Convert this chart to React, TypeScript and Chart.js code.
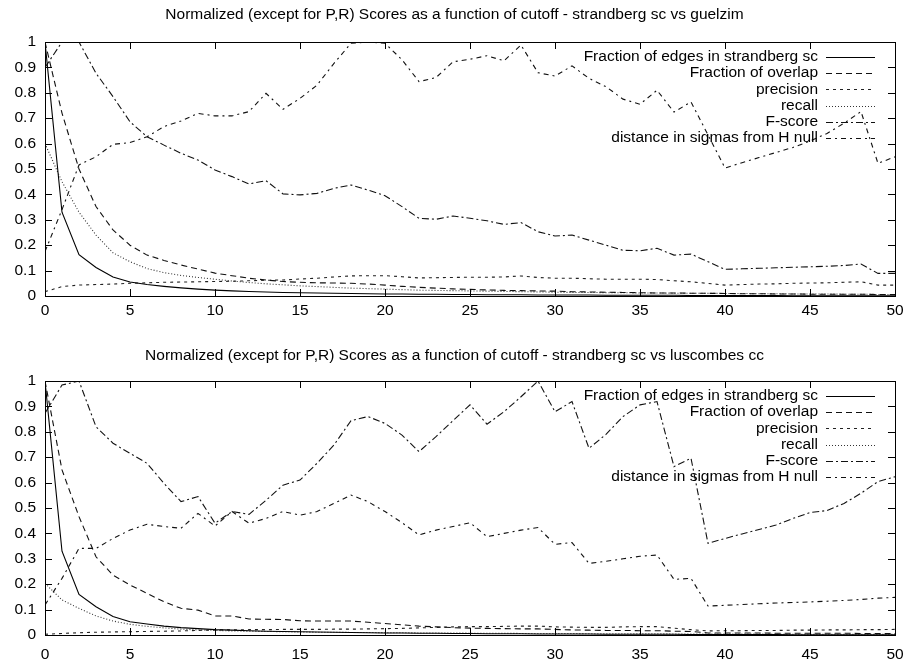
import React, { useEffect, useRef } from "react";
import { Chart, registerables } from "chart.js";
Chart.register(...registerables);

const seriesLabels = [
  "Fraction of edges in strandberg sc",
  "Fraction of overlap",
  "precision",
  "recall",
  "F-score",
  "distance in sigmas from H null",
];

const topTitle = "Normalized (except for P,R) Scores as a function of cutoff - strandberg sc vs guelzim";
const bottomTitle = "Normalized (except for P,R) Scores as a function of cutoff - strandberg sc vs luscombes cc";

const xTickValues = [0, 5, 10, 15, 20, 25, 30, 35, 40, 45, 50];
const yTickValues = [0, 0.1, 0.2, 0.3, 0.4, 0.5, 0.6, 0.7, 0.8, 0.9, 1];

// ---- top chart (strandberg sc vs guelzim) ----
const topCutoffs = [0, 1, 2, 3, 4, 5, 6, 7, 8, 9, 10, 11, 12, 13, 14, 15, 16, 17, 18, 19, 20, 21, 22, 23, 24, 25, 26, 27, 28, 29, 30, 31, 32, 33, 34, 35, 36, 37, 38, 40, 41, 42, 43, 44, 45, 46, 47, 48, 49, 50];
const topEdges = [1, 0.33, 0.163, 0.112, 0.075, 0.055, 0.045, 0.038, 0.032, 0.027, 0.023, 0.02, 0.018, 0.016, 0.014, 0.013, 0.012, 0.011, 0.01, 0.009, 0.008, 0.008, 0.007, 0.007, 0.006, 0.006, 0.005, 0.005, 0.005, 0.004, 0.004, 0.004, 0.004, 0.003, 0.003, 0.003, 0.003, 0.003, 0.002, 0.002, 0.002, 0.002, 0.002, 0.001, 0.001, 0.001, 0.001, 0.001, 0.001, 0.001];
const topOverlap = [1, 0.72, 0.5, 0.352, 0.26, 0.2, 0.161, 0.14, 0.122, 0.106, 0.09, 0.08, 0.07, 0.063, 0.057, 0.054, 0.052, 0.051, 0.05, 0.047, 0.043, 0.038, 0.034, 0.031, 0.028, 0.026, 0.024, 0.022, 0.021, 0.02, 0.019, 0.017, 0.016, 0.015, 0.014, 0.013, 0.012, 0.012, 0.011, 0.01, 0.009, 0.009, 0.008, 0.008, 0.007, 0.007, 0.007, 0.007, 0.006, 0.006];
const topPrecision = [0.017, 0.037, 0.043, 0.045, 0.047, 0.05, 0.052, 0.054, 0.055, 0.056, 0.057, 0.058, 0.06, 0.062, 0.063, 0.067, 0.07, 0.075, 0.079, 0.08, 0.08, 0.076, 0.071, 0.072, 0.073, 0.074, 0.074, 0.075, 0.079, 0.073, 0.07, 0.07, 0.068, 0.066, 0.066, 0.066, 0.065, 0.06, 0.056, 0.043, 0.045, 0.047, 0.048, 0.05, 0.051, 0.052, 0.054, 0.056, 0.043, 0.043];
const topRecall = [0.6, 0.45, 0.33, 0.24, 0.17, 0.135, 0.108, 0.092, 0.081, 0.073, 0.066, 0.059, 0.053, 0.048, 0.044, 0.04, 0.037, 0.034, 0.031, 0.029, 0.027, 0.025, 0.023, 0.022, 0.021, 0.02, 0.019, 0.018, 0.017, 0.016, 0.015, 0.014, 0.014, 0.013, 0.013, 0.012, 0.012, 0.011, 0.011, 0.01, 0.01, 0.009, 0.009, 0.008, 0.008, 0.008, 0.007, 0.007, 0.006, 0.006];
const topFScore = [0.9, 1.0, 1.0, 0.877, 0.785, 0.686, 0.627, 0.594, 0.562, 0.535, 0.496, 0.47, 0.441, 0.454, 0.402, 0.398, 0.404, 0.424, 0.437, 0.417, 0.395, 0.352, 0.306, 0.302, 0.315, 0.306, 0.296, 0.282, 0.289, 0.253, 0.236, 0.24, 0.22, 0.2, 0.18, 0.178, 0.188, 0.161, 0.165, 0.105, 0.107, 0.109, 0.111, 0.113, 0.115, 0.117, 0.12, 0.126, 0.089, 0.089];
const topDistance = [0.175, 0.34, 0.516, 0.548, 0.597, 0.604, 0.627, 0.667, 0.689, 0.719, 0.709, 0.709, 0.726, 0.798, 0.735, 0.778, 0.83, 0.916, 0.995, 1.0, 0.995, 0.93, 0.844, 0.86, 0.922, 0.932, 0.946, 0.926, 0.988, 0.879, 0.866, 0.906, 0.857, 0.824, 0.775, 0.755, 0.81, 0.724, 0.764, 0.504, 0.525, 0.545, 0.565, 0.585, 0.61, 0.64, 0.68, 0.726, 0.522, 0.548];

// ---- bottom chart (strandberg sc vs luscombes cc) ----
const bottomCutoffs = [0, 1, 2, 3, 4, 5, 6, 7, 8, 9, 10, 11, 12, 13, 14, 15, 16, 17, 18, 19, 20, 21, 22, 23, 24, 25, 26, 27, 28, 29, 30, 31, 32, 33, 34, 35, 36, 37, 38, 39, 40, 41, 42, 43, 44, 45, 46, 47, 48, 49, 50];
const bottomEdges = [1, 0.33, 0.16, 0.111, 0.073, 0.052, 0.043, 0.035, 0.029, 0.025, 0.021, 0.019, 0.017, 0.015, 0.014, 0.013, 0.012, 0.011, 0.01, 0.009, 0.008, 0.008, 0.007, 0.007, 0.006, 0.006, 0.005, 0.005, 0.005, 0.004, 0.004, 0.004, 0.004, 0.003, 0.003, 0.003, 0.003, 0.003, 0.002, 0.002, 0.002, 0.002, 0.002, 0.002, 0.001, 0.001, 0.001, 0.001, 0.001, 0.001, 0.001];
const bottomOverlap = [1, 0.65, 0.466, 0.308, 0.236, 0.197, 0.164, 0.131, 0.105, 0.098, 0.075, 0.075, 0.063, 0.062, 0.061, 0.056, 0.055, 0.055, 0.055, 0.05, 0.045, 0.04, 0.035, 0.032, 0.029, 0.027, 0.026, 0.025, 0.024, 0.024, 0.022, 0.02, 0.019, 0.018, 0.018, 0.017, 0.017, 0.015, 0.014, 0.008, 0.008, 0.008, 0.008, 0.007, 0.007, 0.007, 0.007, 0.007, 0.006, 0.006, 0.006];
const bottomPrecision = [0.003, 0.006, 0.009, 0.011, 0.012, 0.013, 0.014, 0.015, 0.016, 0.018, 0.02, 0.02, 0.021, 0.021, 0.022, 0.022, 0.022, 0.023, 0.023, 0.024, 0.025, 0.026, 0.028, 0.03, 0.032, 0.033, 0.033, 0.034, 0.035, 0.035, 0.032, 0.031, 0.03, 0.03, 0.032, 0.033, 0.033, 0.027, 0.021, 0.016, 0.017, 0.017, 0.018, 0.018, 0.019, 0.019, 0.02, 0.02, 0.021, 0.021, 0.022];
const bottomRecall = [0.203, 0.138, 0.105, 0.075, 0.055, 0.042, 0.034, 0.028, 0.023, 0.02, 0.018, 0.016, 0.015, 0.014, 0.013, 0.012, 0.011, 0.011, 0.01, 0.01, 0.009, 0.009, 0.008, 0.008, 0.008, 0.007, 0.007, 0.007, 0.006, 0.006, 0.006, 0.006, 0.005, 0.005, 0.005, 0.005, 0.005, 0.004, 0.004, 0.004, 0.004, 0.004, 0.004, 0.003, 0.003, 0.003, 0.003, 0.003, 0.003, 0.003, 0.003];
const bottomFScore = [0.873, 0.984, 1.0, 0.82, 0.755, 0.715, 0.676, 0.597, 0.525, 0.545, 0.44, 0.486, 0.475, 0.53, 0.59, 0.61, 0.676, 0.748, 0.844, 0.86, 0.833, 0.787, 0.722, 0.781, 0.844, 0.906, 0.83, 0.879, 0.938, 1.0, 0.879, 0.919, 0.735, 0.79, 0.86, 0.906, 0.919, 0.663, 0.696, 0.361, 0.38, 0.398, 0.415, 0.433, 0.459, 0.482, 0.49, 0.518, 0.558, 0.604, 0.623];
const bottomDistance = [0.118, 0.223, 0.341, 0.341, 0.38, 0.413, 0.436, 0.427, 0.42, 0.479, 0.429, 0.486, 0.44, 0.459, 0.486, 0.472, 0.486, 0.518, 0.551, 0.525, 0.486, 0.442, 0.394, 0.413, 0.427, 0.442, 0.387, 0.4, 0.413, 0.423, 0.357, 0.364, 0.282, 0.29, 0.3, 0.31, 0.315, 0.219, 0.223, 0.114, 0.117, 0.12, 0.123, 0.126, 0.128, 0.13, 0.133, 0.136, 0.14, 0.145, 0.148];

const dashPatterns = [[], [6, 4], [3, 4], [1, 2], [7, 3, 2, 3], [5, 4, 2, 4]];
const lineColors = ["#000", "#111", "#222", "#333", "#111", "#111"];

const FONT = "'Liberation Sans', Arial, Helvetica, sans-serif";
const W = 909;

const gnuplotPlugin = {
  id: "gnuplotFrame",
  afterDraw(chart: any, _args: any, opts: any) {
    const ctx = chart.ctx;
    const { left, right, top, bottom } = chart.chartArea;
    const xs = chart.scales.x;
    const ys = chart.scales.y;
    ctx.save();
    ctx.strokeStyle = "#000";
    ctx.lineWidth = 1;
    ctx.setLineDash([]);
    ctx.strokeRect(Math.round(left) + 0.5, Math.round(top) + 0.5, Math.round(right - left), Math.round(bottom - top));
    const tl = 7;
    ctx.beginPath();
    yTickValues.forEach((v) => {
      const y = Math.round(ys.getPixelForValue(v)) + 0.5;
      ctx.moveTo(left, y);
      ctx.lineTo(left + tl, y);
      ctx.moveTo(right, y);
      ctx.lineTo(right - tl, y);
    });
    xTickValues.forEach((v) => {
      const x = Math.round(xs.getPixelForValue(v)) + 0.5;
      ctx.moveTo(x, bottom);
      ctx.lineTo(x, bottom - tl);
      ctx.moveTo(x, top);
      ctx.lineTo(x, top + tl);
    });
    ctx.stroke();
    ctx.fillStyle = "#000";
    ctx.font = `15.5px ${FONT}`;
    ctx.textAlign = "center";
    ctx.textBaseline = "middle";
    ctx.fillText(opts.title, W / 2, opts.titleY);
    ctx.textAlign = "right";
    chart.data.datasets.forEach((ds: any, i: number) => {
      const y = top + 15 + i * 16.2;
      ctx.fillStyle = "#000";
      ctx.fillText(ds.label, 818, y);
      ctx.strokeStyle = ds.borderColor;
      ctx.lineWidth = 1;
      ctx.setLineDash(ds.borderDash || []);
      ctx.beginPath();
      ctx.moveTo(826, Math.round(y) + 0.5);
      ctx.lineTo(875, Math.round(y) + 0.5);
      ctx.stroke();
    });
    ctx.restore();
  },
};

function buildConfig(title: string, titleY: number, cutoffs: number[], series: number[][], padTop: number, padBottom: number, xHeight: number, xPad: number, xLineHeight: number) {
  return {
    type: "line",
    data: {
      datasets: series.map((vals, i) => ({
        label: seriesLabels[i],
        data: cutoffs.map((c, j) => ({ x: c, y: vals[j] })),
        borderColor: lineColors[i],
        borderWidth: 1.1,
        borderDash: dashPatterns[i],
        pointRadius: 0,
        tension: 0,
        fill: false,
      })),
    },
    options: {
      responsive: false,
      animation: false,
      devicePixelRatio: 1,
      layout: { padding: { top: padTop, right: 14, bottom: padBottom, left: 0 } },
      plugins: {
        legend: { display: false },
        title: { display: false },
        tooltip: { enabled: false },
        gnuplotFrame: { title, titleY },
      },
      scales: {
        x: {
          type: "linear",
          min: 0,
          max: 50,
          afterFit: (s: any) => { s.height = xHeight; },
          afterBuildTicks: (s: any) => { s.ticks = xTickValues.map((v) => ({ value: v })); },
          grid: { display: false, drawTicks: false },
          border: { display: false },
          ticks: { padding: xPad, color: "#000", font: { family: FONT, size: 15.5, lineHeight: xLineHeight }, maxRotation: 0, autoSkip: false, callback: (v: any) => String(v) },
        },
        y: {
          type: "linear",
          min: 0,
          max: 1,
          afterFit: (s: any) => { s.width = 45; },
          afterBuildTicks: (s: any) => { s.ticks = yTickValues.map((v) => ({ value: v })); },
          grid: { display: false, drawTicks: false },
          border: { display: false },
          ticks: { padding: 9, color: "#000", font: { family: FONT, size: 15.5 }, autoSkip: false, callback: (v: any) => String(Math.round(v * 10) / 10) },
        },
      },
    },
    plugins: [gnuplotPlugin],
  };
}

function PlotCanvas(props: { h: number; cfg: () => any }) {
  const ref = useRef<HTMLCanvasElement | null>(null);
  useEffect(() => {
    if (!ref.current) return;
    const chart = new Chart(ref.current, props.cfg() as any);
    return () => chart.destroy();
  }, []);
  return <canvas ref={ref} width={W} height={props.h} style={{ display: "block", width: W, height: props.h }} />;
}

export default function App() {
  return (
    <div style={{ position: "absolute", left: 0, top: 0, width: W, height: 662, background: "#fff" }}>
      <PlotCanvas h={327} cfg={() => buildConfig(topTitle, 15, topCutoffs, [topEdges, topOverlap, topPrecision, topRecall, topFScore, topDistance], 42, 1, 30, 5, 1.2)} />
      <PlotCanvas h={335} cfg={() => buildConfig(bottomTitle, 29, bottomCutoffs, [bottomEdges, bottomOverlap, bottomPrecision, bottomRecall, bottomFScore, bottomDistance], 54, 0, 27, 5, 1.95)} />
    </div>
  );
}
